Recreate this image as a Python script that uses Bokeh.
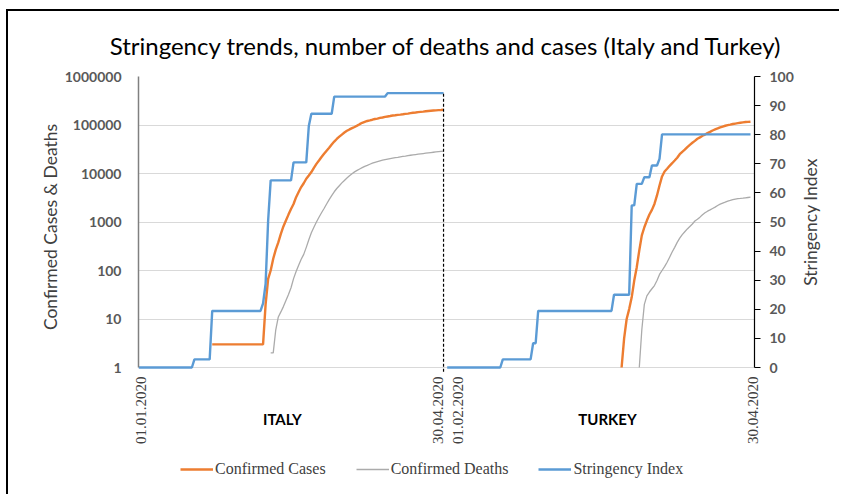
from math import pi

from bokeh.embed import file_html
from bokeh.layouts import column, row
from bokeh.models import (FixedTicker, Label, Legend, LegendItem, LinearAxis,
                          LinearScale, NumeralTickFormatter, Range1d)
from bokeh.plotting import figure
from bokeh.resources import INLINE

# ---------------------------------------------------------------------------
# Daily series, day index 0 = first day of each country's panel
# ---------------------------------------------------------------------------
italy_stringency = ([0.0] * 22 + [2.78] * 7 + [19.44] * 20 + [22.0, 28.7, 50.5]
                    + [64.3] * 9 + [70.5] * 6 + [83.0] + [87.2] * 9
                    + [93.1] * 21 + [94.3] * 23)

italy_cases_start = 29
italy_cases = ([3] * 21
               + [20, 67, 100, 175, 270, 380, 570, 810, 1070, 1420,
                  1860, 2350, 3250, 4150, 5250, 6300, 7800, 9100, 10700, 13100,
                  15800, 18500, 21800, 25500, 29500, 34000, 39500, 45500, 51500, 57500,
                  63500, 70000, 76000, 81000, 86000, 91000, 97000, 104000, 111000, 116000,
                  121000, 124500, 128500, 133000, 135000, 140000, 143000, 147000, 150000, 153000,
                  157000, 159000, 162000, 164000, 166500, 169500, 172000, 176000, 178500, 181000,
                  184000, 186500, 189000, 192000, 194500, 197000, 199000, 200500, 202500, 204000,
                  206000])

italy_deaths_start = 52
italy_deaths = [2, 2, 6, 11, 14, 18, 24, 32, 44, 68,
                95, 128, 170, 215, 300, 430, 600, 780, 1000, 1250,
                1550, 1900, 2350, 2900, 3500, 4200, 4900, 5600, 6400, 7200,
                8100, 9000, 9900, 10800, 11600, 12400, 13200, 14000, 14700, 15500,
                16300, 17000, 17600, 18200, 18800, 19300, 19800, 20300, 20800, 21200,
                21600, 22100, 22500, 22900, 23400, 23800, 24200, 24600, 25000, 25400,
                25800, 26200, 26600, 27000, 27400, 27800, 28200, 28600, 29000]

turkey_stringency = ([0.0] * 22 + [2.78] * 12 + [8.33] * 2 + [19.44] * 30
                     + [25.0] * 7 + [55.7] * 2 + [63.1] * 3 + [65.4] * 3
                     + [69.4] * 3 + [71.7] + [80.1] * 36)

turkey_cases_start = 69
turkey_cases = [1, 4, 10, 16, 28, 62, 117, 260, 530, 780,
                1070, 1430, 1780, 2360, 3530, 5650, 8700, 11000, 12500, 14400,
                16300, 18500, 21200, 25000, 28000, 31000, 35000, 39000, 43000, 47000,
                52000, 55500, 60000, 63500, 68000, 72000, 77000, 81000, 85000, 89500,
                93000, 96500, 99500, 102000, 105000, 107000, 109000, 111000, 113000, 115000,
                116000, 117000]

turkey_deaths_start = 76
turkey_deaths = [1, 6, 20, 30, 36, 42, 49, 62, 83, 100,
                 120, 148, 188, 240, 300, 380, 465, 550, 630, 720,
                 810, 910, 1050, 1140, 1260, 1410, 1550, 1670, 1780, 1900,
                 2030, 2190, 2340, 2450, 2560, 2690, 2780, 2880, 2970, 3030,
                 3060, 3100, 3150, 3200, 3250]

count_ticks = [1, 10, 100, 1000, 10000, 100000, 1000000]
stringency_ticks = [0, 10, 20, 30, 40, 50, 60, 70, 80, 90, 100]

date_labels_italy = ["01.01.2020", "30.04.2020"]
date_labels_turkey = ["01.02.2020", "30.04.2020"]
country_names = ["ITALY", "TURKEY"]
series_names = ["Confirmed Cases", "Confirmed Deaths", "Stringency Index"]
right_axis_title = "Stringency Index"

ORANGE = "#ED7D31"
GREY = "#ABABAB"
BLUE = "#5B9BD5"
TEXT = "#404040"
TICK = "#595959"

# ---------------------------------------------------------------------------
# Geometry (page pixels).  Chart top-left; the right-axis title in a narrow
# strip beside it; date labels, country names and the legend in a strip
# below that shares the chart's horizontal mapping.
# ---------------------------------------------------------------------------
PAGE_W, PAGE_H = 841, 496
CANVAS_X0, CANVAS_Y0 = 8, 11      # after margin + 2px frame border
DATA_L, DATA_R = 138, 754         # left / right value axes
DATA_T = 76                       # 1,000,000 / 100
ZERO_Y = 367                      # 1 / 0
CHART_B = 377                     # bottom of the chart canvas
CHART_R = 800                     # right edge of the chart canvas
ITALY_X0 = DATA_L                 # Italy day 0
TURKEY_X0 = 446.7                 # Turkey day 0
PX_ITALY = 2.542                  # px per day, Italy panel
PX_TURKEY = 2.5275                # px per day, Turkey panel
PX_PER_DECADE = (ZERO_Y - DATA_T) / 6
PX_PER_UNIT = (ZERO_Y - DATA_T) / 100

TOP_H = CHART_B - CANVAS_Y0
BOTTOM_H = PAGE_H - CHART_B
FRAME_H = CHART_B - DATA_T
BORDER = "2px solid #000000"


def days(start, values):
    return list(range(start, start + len(values)))


# ---------------------------------------------------------------------------
# Chart
# ---------------------------------------------------------------------------
p = figure(width=CHART_R - CANVAS_X0, height=TOP_H,
           x_range=Range1d(0, (DATA_R - ITALY_X0) / PX_ITALY),
           y_range=Range1d(10 ** (6 - FRAME_H / PX_PER_DECADE), 1e6),
           y_axis_type="log", x_axis_location=None,
           output_backend="svg", toolbar_location=None,
           min_border_left=DATA_L - CANVAS_X0,
           min_border_right=CHART_R - DATA_R,
           min_border_top=DATA_T - CANVAS_Y0, min_border_bottom=0,
           background_fill_color="white", border_fill_color="white")
p.frame_align = False
p.margin = (CANVAS_Y0 - 2, 0, 0, CANVAS_X0 - 2)
p.styles = {"border-top": BORDER, "border-left": BORDER}
p.outline_line_color = None

p.extra_y_ranges = {"si": Range1d(100 - FRAME_H / PX_PER_UNIT, 100)}
p.extra_y_scales = {"si": LinearScale()}
p.extra_x_ranges = {"tr": Range1d((DATA_L - TURKEY_X0) / PX_TURKEY,
                                  (DATA_R - TURKEY_X0) / PX_TURKEY)}
p.extra_x_scales = {"tr": LinearScale()}

p.title.text = "Stringency trends, number of deaths and cases (Italy and Turkey)"
p.title.align = "center"
p.title.text_font = "Lato"
p.title.text_font_size = "24px"
p.title.text_font_style = "normal"
p.title.text_color = "#000000"
p.title.standoff = 33

# left (log) axis
ya = p.yaxis[0]
ya.bounds = (count_ticks[0], count_ticks[-1])
ya.ticker = FixedTicker(ticks=count_ticks, minor_ticks=[])
ya.formatter = NumeralTickFormatter(format="0")
ya.major_tick_line_color = None
ya.minor_tick_line_color = None
ya.axis_line_color = "#808080"
ya.axis_line_width = 1.5
ya.major_label_text_font = "Lato"
ya.major_label_text_font_style = "bold"
ya.major_label_text_font_size = "14px"
ya.major_label_text_color = TICK
ya.major_label_standoff = 11
ya.axis_label = "Confirmed Cases & Deaths"
ya.axis_label_text_font = "Lato"
ya.axis_label_text_font_style = "normal"
ya.axis_label_text_font_size = "17.5px"
ya.axis_label_text_color = TEXT
ya.axis_label_standoff = 1

p.ygrid.ticker = FixedTicker(ticks=count_ticks, minor_ticks=[])
p.ygrid.grid_line_color = "#D9D9D9"
p.ygrid.grid_line_width = 1
p.xgrid.visible = False

# right (stringency) axis; its title sits in the strip to the right
ra = LinearAxis(y_range_name="si",
                ticker=FixedTicker(ticks=stringency_ticks, minor_ticks=[]))
ra.bounds = (stringency_ticks[0], stringency_ticks[-1])
ra.axis_line_color = "#000000"
ra.axis_line_width = 1.2
ra.major_tick_in = 0
ra.major_tick_out = 6
ra.major_tick_line_color = "#000000"
ra.minor_tick_line_color = None
ra.major_label_text_font = "Lato"
ra.major_label_text_font_style = "bold"
ra.major_label_text_font_size = "14px"
ra.major_label_text_color = TICK
ra.major_label_standoff = 9
p.add_layout(ra, "right")

it_days = list(range(len(italy_stringency)))
tr_days = list(range(len(turkey_stringency)))

p.line(days(italy_deaths_start, italy_deaths), italy_deaths,
       line_color=GREY, line_width=1.3)
p.line(days(italy_cases_start, italy_cases), italy_cases,
       line_color=ORANGE, line_width=2.4)
p.line(it_days, italy_stringency, y_range_name="si",
       line_color=BLUE, line_width=2.4)

p.line(days(turkey_deaths_start, turkey_deaths), turkey_deaths,
       x_range_name="tr", line_color=GREY, line_width=1.3)
p.line(days(turkey_cases_start, turkey_cases), turkey_cases,
       x_range_name="tr", line_color=ORANGE, line_width=2.4)
p.line(tr_days, turkey_stringency, x_range_name="tr", y_range_name="si",
       line_color=BLUE, line_width=2.4)

# dashed divider dropping from Italy's last stringency value
p.segment(x0=[it_days[-1]], y0=[-1.5], x1=[it_days[-1]], y1=[italy_stringency[-1]],
          y_range_name="si", line_color="#000000", line_width=1.2, line_dash="3 2")


def strip(width, height, x_range, y_range, margin, styles):
    f = figure(width=width, height=height, x_range=x_range, y_range=y_range,
               x_axis_location=None, y_axis_location=None,
               output_backend="svg", toolbar_location=None,
               min_border_left=0, min_border_right=0,
               min_border_top=0, min_border_bottom=0,
               background_fill_color="white", border_fill_color="white")
    f.frame_align = False
    f.margin = margin
    f.styles = styles
    f.outline_line_color = None
    f.grid.visible = False
    return f


# ---------------------------------------------------------------------------
# Right strip: stringency axis title (y counts pixels down from the top)
# ---------------------------------------------------------------------------
s = strip(PAGE_W - CHART_R, TOP_H, Range1d(CHART_R, PAGE_W), Range1d(TOP_H + CANVAS_Y0, CANVAS_Y0),
          (CANVAS_Y0 - 2, 0, 0, 0), {"border-top": BORDER})
s.add_layout(Label(x=812, y=(DATA_T + ZERO_Y) / 2, text=right_axis_title, angle=pi / 2,
                   text_align="center", text_baseline="middle",
                   text_font="Lato", text_font_size="17.5px", text_color=TEXT))

# ---------------------------------------------------------------------------
# Bottom strip: y counts pixels down from the chart's bottom edge
# ---------------------------------------------------------------------------
b = strip(PAGE_W - CANVAS_X0, BOTTOM_H,
          Range1d((CANVAS_X0 - ITALY_X0) / PX_ITALY, (PAGE_W - ITALY_X0) / PX_ITALY),
          Range1d(BOTTOM_H, 0), (0, 0, 0, CANVAS_X0 - 2), {"border-left": BORDER})
b.extra_x_ranges = {"tr": Range1d((CANVAS_X0 - TURKEY_X0) / PX_TURKEY,
                                  (PAGE_W - TURKEY_X0) / PX_TURKEY)}
b.extra_x_scales = {"tr": LinearScale()}

DATE_TOP = 378 - CHART_B
COUNTRY_Y = 420 - CHART_B

for text, xpos, rng, dx in [(date_labels_italy[0], it_days[0], "default", 2),
                            (date_labels_italy[1], it_days[-1], "default", -6),
                            (date_labels_turkey[0], tr_days[0], "tr", 11),
                            (date_labels_turkey[1], tr_days[-1], "tr", 2)]:
    b.add_layout(Label(x=xpos, y=DATE_TOP, x_range_name=rng,
                       x_offset=dx, text=text, angle=pi / 2,
                       text_align="right", text_baseline="middle",
                       text_font="Liberation Serif", text_font_size="15px",
                       text_color=TEXT))

for text, xpos, rng in [(country_names[0], 56.6, "default"),
                        (country_names[1], 63.4, "tr")]:
    b.add_layout(Label(x=xpos, y=COUNTRY_Y, x_range_name=rng,
                       text=text, text_align="center", text_baseline="middle",
                       text_font="Lato", text_font_style="bold",
                       text_font_size="15px", text_color="#000000"))

# legend keys: styled like the chart's series, with an empty (NaN) point
nan = float("nan")
k_cases = b.line(x=[nan], y=[nan], line_color=ORANGE, line_width=2.4)
k_deaths = b.line(x=[nan], y=[nan], line_color=GREY, line_width=1.3)
k_si = b.line(x=[nan], y=[nan], line_color=BLUE, line_width=2.4)

legend = Legend(items=[LegendItem(label=series_names[0], renderers=[k_cases]),
                       LegendItem(label=series_names[1], renderers=[k_deaths]),
                       LegendItem(label=series_names[2], renderers=[k_si])],
                orientation="horizontal", location=(180 - CANVAS_X0, 15),
                glyph_width=33, glyph_height=20, label_standoff=2, spacing=30,
                padding=0, margin=0, border_line_color=None,
                background_fill_alpha=0,
                label_text_font="Liberation Serif", label_text_font_size="16px",
                label_text_color=TEXT)
b.add_layout(legend)

layout = column(row(p, s, spacing=0), b, spacing=0)
open("out.html", "w").write(file_html(layout, INLINE))
